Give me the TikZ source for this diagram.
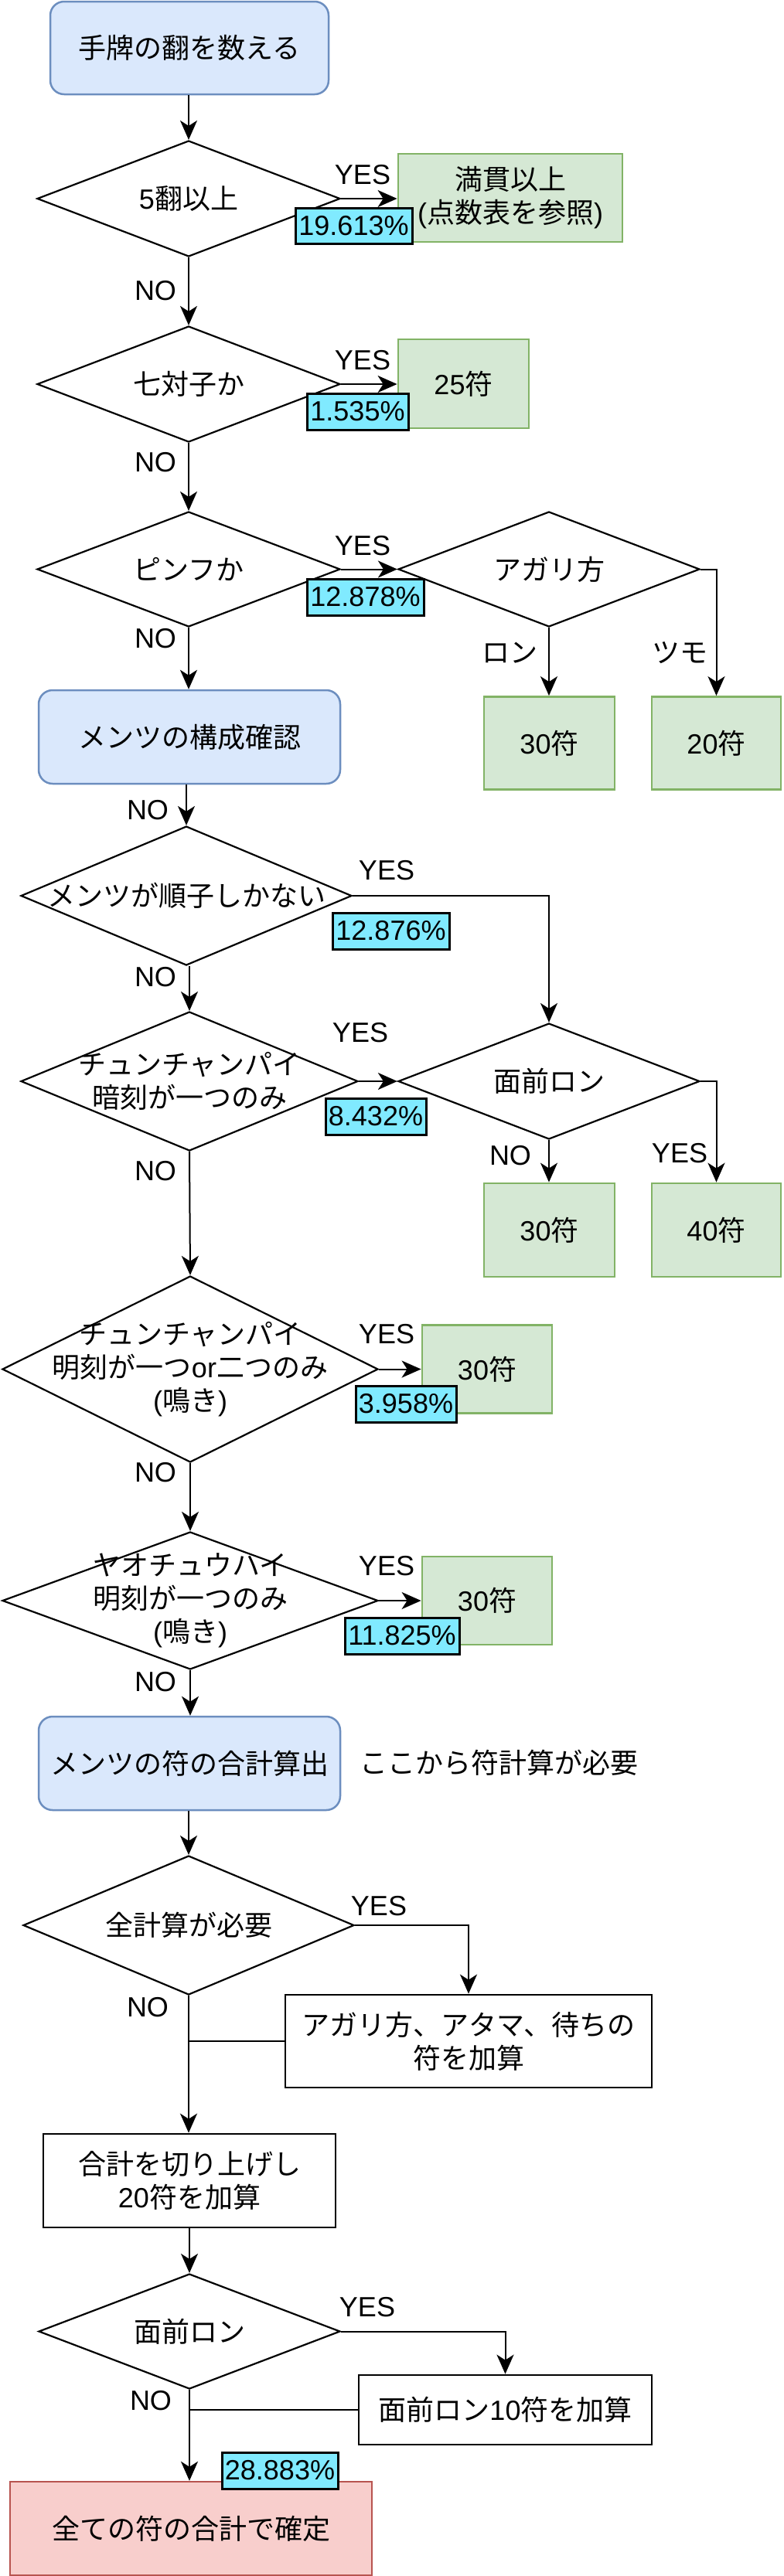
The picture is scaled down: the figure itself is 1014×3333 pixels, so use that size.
\documentclass[tikz,border=0pt]{standalone}
\usepackage{fontspec}
\setmainfont{Liberation Sans}
\newfontfamily\jpfont{Noto Sans CJK JP}
\newcommand\J[1]{{\jpfont #1}}
\newcommand\fsz{\fontsize{36}{43}\selectfont}
\usetikzlibrary{shapes.geometric,arrows.meta}
\definecolor{bfill}{HTML}{DAE8FC}
\definecolor{bline}{HTML}{6C8EBF}
\definecolor{gfill}{HTML}{D5E8D4}
\definecolor{gline}{HTML}{82B366}
\definecolor{rfill}{HTML}{F8CECC}
\definecolor{rline}{HTML}{B85450}
\definecolor{cyanlbl}{HTML}{80EAFF}
\begin{document}
\begin{tikzpicture}[x=1pt,y=-1pt,
  txt/.style={font=\fsz, inner sep=0pt, align=center},
  dia/.style={diamond, draw=black, line width=2.2pt, fill=white, inner sep=0pt},
  startbox/.style={rectangle, rounded corners=18pt, draw=bline, fill=bfill, line width=2.5pt, inner sep=0pt, font=\fsz, align=center},
  greenbox/.style={rectangle, draw=gline, fill=gfill, line width=2.8pt, inner sep=0pt, font=\fsz, align=center},
  plainbox/.style={rectangle, draw=black, fill=white, line width=2.8pt, inner sep=0pt, font=\fsz, align=center},
  redbox/.style={rectangle, draw=rline, fill=rfill, line width=2.5pt, inner sep=0pt, font=\fsz, align=center},
  pct/.style={rectangle, draw=black, fill=cyanlbl, line width=3pt, inner sep=0pt, font=\fsz},
  arr/.style={draw=black, line width=2pt, -{Stealth[length=25pt,width=22pt,inset=7pt]}},
  ln/.style={draw=black, line width=2pt},
]
\useasboundingbox (0,0) rectangle (1014,3333);

% ---------- nodes ----------
\node[startbox, minimum width=360, minimum height=120] (start) at (245,62) {\J{手牌の翻を数える}};

\node[dia, minimum width=392, minimum height=150] (d1) at (244,257) {};
\node[txt] at (d1) {5\J{翻以上}};
\node[greenbox, minimum width=290, minimum height=114] (g1) at (660,256) {\J{満貫以上}\\(\J{点数表を参照})};

\node[dia, minimum width=392, minimum height=150] (d2) at (244,497) {};
\node[txt] at (d2) {\J{七対子か}};
\node[greenbox, minimum width=169, minimum height=115] (g2) at (599.5,496.5) {25\J{符}};

\node[dia, minimum width=392, minimum height=149] (d3) at (244,736.5) {};
\node[txt] at (d3) {\J{ピンフか}};
\node[dia, minimum width=390, minimum height=149] (d4) at (710,736.5) {};
\node[txt] at (d4) {\J{アガリ方}};

\node[greenbox, minimum width=169, minimum height=120] (g3) at (710.5,961.5) {30\J{符}};
\node[greenbox, minimum width=167, minimum height=120] (g4) at (926.5,961.5) {20\J{符}};

\node[startbox, minimum width=390, minimum height=121] (b1) at (245,953.5) {\J{メンツの構成確認}};

\node[dia, minimum width=428, minimum height=180] (d5) at (241,1159) {};
\node[txt] at (d5) {\J{メンツが順子しかない}};

\node[dia, minimum width=436, minimum height=180] (d6) at (245,1399) {};
\node[txt] at (d6) {\J{チュンチャンパイ}\\\J{暗刻が一つのみ}};
\node[dia, minimum width=390, minimum height=150] (d7) at (710,1399) {};
\node[txt] at (d7) {\J{面前ロン}};

\node[greenbox, minimum width=169, minimum height=121] (g5) at (710.5,1591.5) {30\J{符}};
\node[greenbox, minimum width=167, minimum height=121] (g6) at (926.5,1591.5) {40\J{符}};

\node[dia, minimum width=486, minimum height=241] (d8) at (246,1771.5) {};
\node[txt] at (d8) {\J{チュンチャンパイ}\\\J{明刻が一つ}or\J{二つのみ}\\(\J{鳴き})};
\node[greenbox, minimum width=168, minimum height=114] (g7) at (630,1771.5) {30\J{符}};

\node[dia, minimum width=486, minimum height=178] (d9) at (246,2071) {};
\node[txt] at (d9) {\J{ヤオチュウハイ}\\\J{明刻が一つのみ}\\(\J{鳴き})};
\node[greenbox, minimum width=168, minimum height=114] (g8) at (630,2071) {30\J{符}};

\node[startbox, minimum width=390, minimum height=121] (b2) at (245,2281.5) {\J{メンツの符の合計算出}};
\node[txt] (note) at (645,2281) {\J{ここから符計算が必要}};

\node[dia, minimum width=428, minimum height=180] (d10) at (244,2491) {};
\node[txt] at (d10) {\J{全計算が必要}};
\node[plainbox, minimum width=474, minimum height=120] (b3) at (606,2641) {\J{アガリ方、アタマ、待ちの}\\\J{符を加算}};

\node[plainbox, minimum width=378, minimum height=121] (b4) at (245,2821.5) {\J{合計を切り上げし}\\20\J{符を加算}};

\node[dia, minimum width=390, minimum height=149] (d11) at (245,3016.5) {};
\node[txt] at (d11) {\J{面前ロン}};
\node[plainbox, minimum width=379, minimum height=90] (b5) at (653.5,3118) {\J{面前ロン}10\J{符を加算}};

\node[redbox, minimum width=468, minimum height=121] (fin) at (247,3271.5) {\J{全ての符の合計で確定}};

% ---------- connectors ----------
\draw[arr] (d1.north |- start.south) -- (d1.north);
\draw[arr] (d1.east) -- (d1.east -| g1.west);
\draw[arr] (d1.south) -- (d2.north);
\draw[arr] (d2.east) -- (d2.east -| g2.west);
\draw[arr] (d2.south) -- (d3.north);
\draw[arr] (d3.east) -- (d4.west);
\draw[arr] (d3.south) -- (d3.south |- b1.north);
\draw[arr] (d4.south) -- (d4.south |- g3.north);
\draw[arr] (d4.east) -| (g4.north);
\draw[arr] (d5.north |- b1.south) -- (d5.north);
\draw[arr] (d5.east) -| (d7.north);
\draw[arr] (d6.north |- d5.south) -- (d6.north);
\draw[arr] (d6.east) -- (d7.west);
\draw[arr] (d7.south) -- (d7.south |- g5.north);
\draw[arr] (d7.east) -| (g6.north);
\draw[arr] (d6.south) -- (d8.north);
\draw[arr] (d8.east) -- (d8.east -| g7.west);
\draw[arr] (d8.south) -- (d9.north);
\draw[arr] (d9.east) -- (d9.east -| g8.west);
\draw[arr] (d9.south) -- (d9.south |- b2.north);
\draw[arr] (d10.north |- b2.south) -- (d10.north);
\draw[arr] (d10.east) -| (b3.north);
\draw[arr] (d10.south) -- (d10.south |- b4.north);
\coordinate (j1) at (b3.west -| d10.south);
\draw[ln] (b3.west) -- (j1);
\draw[arr] (d11.north |- b4.south) -- (d11.north);
\draw[arr] (d11.east) -| (b5.north);
\draw[arr] (d11.south) -- (d11.south |- fin.north);
\coordinate (j2) at (b5.west -| d11.south);
\draw[ln] (b5.west) -- (j2);

% ---------- edge labels ----------
\node[txt] (y1) at (469,226) {YES};
\node[txt] (n1) at (201,376) {NO};
\node[txt] (y2) at (469,466) {YES};
\node[txt] (n2) at (201,598) {NO};
\node[txt] (y3) at (469,706) {YES};
\node[txt] (n3) at (201,826) {NO};
\node[txt] (ron1) at (659,845) {\J{ロン}};
\node[txt] (tsumo) at (879,845) {\J{ツモ}};
\node[txt] (n4) at (191,1048) {NO};
\node[txt] (y5) at (500,1126) {YES};
\node[txt] (n5) at (201,1264) {NO};
\node[txt] (y6) at (466,1336) {YES};
\node[txt] (n6) at (201,1515) {NO};
\node[txt] (n7) at (660,1495) {NO};
\node[txt] (y7) at (879,1492) {YES};
\node[txt] (y8) at (500,1726) {YES};
\node[txt] (n8) at (201,1905) {NO};
\node[txt] (y9) at (500,2026) {YES};
\node[txt] (n9) at (201,2176) {NO};
\node[txt] (y10) at (490,2466) {YES};
\node[txt] (n10) at (191,2597) {NO};
\node[txt] (y11) at (475,2985) {YES};
\node[txt] (n11) at (195,3106) {NO};

% ---------- percentage labels ----------
\node[pct, minimum width=151, minimum height=46] (p1) at (457.5,292) {19.613\%};
\node[pct, minimum width=131, minimum height=47] (p2) at (462.5,532.5) {1.535\%};
\node[pct, minimum width=151, minimum height=47] (p3) at (472.5,772.5) {12.878\%};
\node[pct, minimum width=151, minimum height=47] (p4) at (505.5,1204.5) {12.876\%};
\node[pct, minimum width=130, minimum height=47] (p5) at (486,1444.5) {8.432\%};
\node[pct, minimum width=130, minimum height=47] (p6) at (525,1816.5) {3.958\%};
\node[pct, minimum width=148, minimum height=47] (p7) at (520,2116.5) {11.825\%};
\node[pct, minimum width=150, minimum height=47] (p8) at (362,3196.5) {28.883\%};
\end{tikzpicture}
\end{document}
